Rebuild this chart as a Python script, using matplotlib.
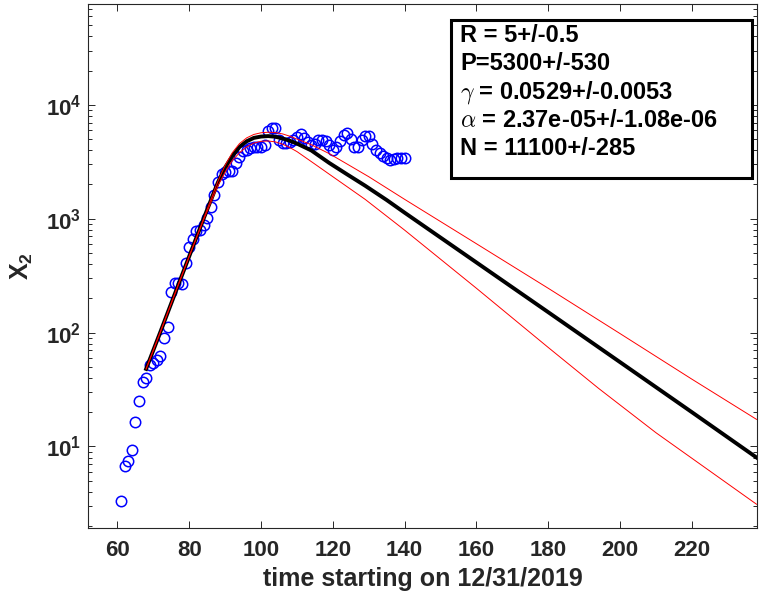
import math
import matplotlib
matplotlib.use("Agg")
import matplotlib.pyplot as plt
from matplotlib.patches import Rectangle
from matplotlib.ticker import FuncFormatter, LogLocator, NullFormatter

plt.rcParams['font.family'] = ['Liberation Sans', 'DejaVu Sans']
plt.rcParams['font.weight'] = 'bold'
plt.rcParams['mathtext.fontset'] = 'custom'
plt.rcParams['mathtext.rm'] = 'Liberation Sans'
plt.rcParams['mathtext.bf'] = 'Liberation Sans:bold'
plt.rcParams['mathtext.it'] = 'Liberation Sans:italic'

# observed data (day, value)
days = list(range(61, 141))
cases = [3.35, 6.7, 7.5, 9.4, 16.5, 25, 37, 40, 52, 54,
         57, 62, 89, 111, 228, 270, 275, 268, 409, 570,
         660, 785, 795, 880, 1010, 1260, 1610, 2100, 2450, 2570,
         2600, 2650, 3100, 3500, 3900, 4000, 4150, 4300, 4250, 4300,
         4450, 5900, 6300, 6250, 4900, 4600, 4650, 4750, 4950, 5200,
         5550, 5100, 4750, 4450, 4550, 4900, 4950, 4850, 4450, 4050,
         4300, 4800, 5400, 5650, 5050, 4300, 4300, 4900, 5350, 5300,
         4500, 4000, 3800, 3550, 3400, 3300, 3350, 3400, 3430, 3450]

# best fit model
fit_t = [68, 72, 76, 80, 84, 88, 90, 92, 94, 96, 98, 100, 102, 104, 106,
         108, 110, 114, 119, 124, 129, 135, 140, 160, 180, 200, 220, 238]
fit_v = [48, 102, 219, 468, 1000, 2090, 2820, 3550, 4270, 4790, 5130, 5270,
         5320, 5250, 5070, 4840, 4570, 3980, 3090, 2450, 1950, 1460, 1130,
         413, 151, 55, 20, 8.0]

# upper / lower envelopes
up_t = [68, 72, 76, 80, 84, 88, 90, 92, 94, 96, 98, 100, 102, 104, 106,
        108, 110, 114, 119, 124, 130, 140, 160, 180, 200, 220, 238]
up_v = [48, 102, 219, 468, 1000, 2140, 2950, 3800, 4570, 5130, 5500, 5690,
        5750, 5710, 5560, 5310, 5010, 4470, 3730, 3020, 2340, 1480, 603,
        245, 98, 39, 17.3]
lo_t = [68, 72, 76, 80, 84, 88, 90, 92, 94, 96, 98, 100, 102, 104, 106,
        108, 110, 115, 120, 129, 140, 160, 180, 194, 210, 238]
lo_v = [48, 102, 219, 468, 977, 1950, 2570, 3240, 3800, 4270, 4620, 4790,
        4820, 4730, 4520, 4220, 3890, 3020, 2340, 1480, 794, 245, 74, 32.4,
        13.2, 3.11]

params = ["R = 5+/-0.5",
          "P=5300+/-530",
          r"$\gamma$ = 0.0529+/-0.0053",
          r"$\alpha$ = 2.37e-05+/-1.08e-06",
          "N = 11100+/-285"]

fig = plt.figure(figsize=(7.68, 6.06), dpi=100)
ax = fig.add_axes([0.115, 0.129, 0.871, 0.8645])

ax.plot(days, cases, 'o', mfc='none', mec=(0, 0, 1), ms=7.5, mew=1.1, zorder=2)
ax.plot(fit_t, fit_v, 'k-', lw=2.8, zorder=3)
ax.plot(up_t, up_v, '-', color=(1, 0, 0), lw=0.7, zorder=4)
ax.plot(lo_t, lo_v, '-', color=(1, 0, 0), lw=0.7, zorder=4)

ax.set_yscale('log')
ax.set_xlim(51.9, 238.2)
ax.set_ylim(1.93, 7.7e4)
ax.set_xticks(range(60, 221, 20))
ax.yaxis.set_major_locator(LogLocator(base=10, numticks=10))
ax.yaxis.set_minor_locator(LogLocator(base=10, subs=range(2, 10), numticks=20))
ax.yaxis.set_minor_formatter(NullFormatter())
ax.yaxis.set_major_formatter(FuncFormatter(
    lambda v, p: r'$\mathbf{10^{%d}}$' % round(math.log10(v))))

dark = (0.15, 0.15, 0.15)
for s in ax.spines.values():
    s.set_color(dark)
    s.set_linewidth(0.8)
ax.tick_params(which='both', direction='in', top=True, right=True,
               color=dark, labelcolor=dark, labelsize=16, width=0.7)
ax.tick_params(which='major', length=5)
ax.tick_params(which='minor', length=3)
ax.tick_params(axis='x', pad=9)
ax.tick_params(axis='y', pad=5)
for lab in ax.get_xticklabels():
    lab.set_fontweight('bold')

ax.set_xlabel("time starting on 12/31/2019", fontsize=18, fontweight='bold',
              color=dark, labelpad=4)
ax.set_ylabel(r"$\mathbf{X_2}$", fontsize=18, color=dark, labelpad=8)

ax.add_patch(Rectangle((0.542, 0.667), 0.4496, 0.3025, transform=ax.transAxes,
                       fill=True, fc='white', ec='black', lw=2.2, zorder=5))
ys = [0.928, 0.874, 0.820, 0.766, 0.712]
for txt, y in zip(params, ys):
    ax.text(0.5556, y, txt, transform=ax.transAxes, fontsize=17,
            fontweight='bold', va='baseline', ha='left', zorder=6,
            math_fontfamily='cm')

fig.savefig("out.png", dpi=100)
